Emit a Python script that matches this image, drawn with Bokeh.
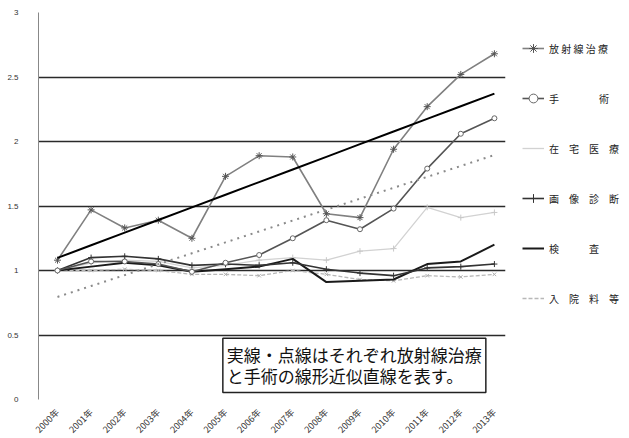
import numpy as np
from bokeh.plotting import figure
from bokeh.models import Legend, LegendItem, Label, FixedTicker
from bokeh.embed import file_html
from bokeh.resources import INLINE

# 年ごとの指数（2000年 = 1）
years = ["2000年", "2001年", "2002年", "2003年", "2004年", "2005年", "2006年",
         "2007年", "2008年", "2009年", "2010年", "2011年", "2012年", "2013年"]

radiation = [1.08, 1.47, 1.33, 1.39, 1.25, 1.73, 1.89, 1.88, 1.44, 1.41, 1.94, 2.27, 2.52, 2.68]
surgery   = [1.00, 1.07, 1.07, 1.05, 0.99, 1.06, 1.12, 1.25, 1.39, 1.32, 1.48, 1.79, 2.06, 2.18]
home_care = [1.00, 1.06, 1.08, 1.07, 1.02, 1.04, 1.08, 1.10, 1.08, 1.15, 1.17, 1.49, 1.41, 1.45]
imaging   = [1.00, 1.10, 1.11, 1.09, 1.04, 1.05, 1.04, 1.06, 1.01, 0.98, 0.96, 1.02, 1.03, 1.05]
tests     = [1.00, 1.03, 1.06, 1.04, 0.99, 1.01, 1.03, 1.09, 0.91, 0.92, 0.93, 1.05, 1.07, 1.20]
inpatient = [1.00, 1.00, 1.01, 1.00, 0.97, 0.97, 0.96, 1.00, 0.97, 0.93, 0.92, 0.96, 0.95, 0.97]

y_ticks = [0, 0.5, 1, 1.5, 2, 2.5, 3]

x = np.arange(len(years))
JP = "Noto Sans CJK JP"

p = figure(frame_width=467, frame_height=387, output_backend="svg", toolbar_location=None,
           x_range=(-0.565, 13.33), y_range=(0, 3),
           min_border_left=38, min_border_right=124, min_border_top=12, min_border_bottom=39)
p.outline_line_color = None
p.background_fill_color = "white"

# 軸
p.xgrid.grid_line_color = None
p.ygrid.ticker = FixedTicker(ticks=y_ticks)
p.ygrid.grid_line_color = "#2a2a2a"
p.ygrid.grid_line_width = 1.3

p.yaxis.ticker = FixedTicker(ticks=y_ticks)
p.yaxis.major_label_overrides = {0: "0", 0.5: "0.5", 1: "1", 1.5: "1.5", 2: "2", 2.5: "2.5", 3: "3"}
p.yaxis.axis_line_color = "#888888"
p.yaxis.major_tick_line_color = None
p.yaxis.minor_tick_line_color = None
p.yaxis.major_label_text_font_size = "8px"
p.yaxis.major_label_text_color = "#333333"
p.yaxis.major_label_standoff = 14

p.xaxis.ticker = FixedTicker(ticks=list(range(len(years))))
p.xaxis.major_label_overrides = {i: y for i, y in enumerate(years)}
p.xaxis.major_label_orientation = np.pi / 4
p.xaxis.axis_line_color = None
p.xaxis.major_tick_line_color = None
p.xaxis.minor_tick_line_color = None
p.xaxis.major_label_text_font_size = "9px"
p.xaxis.major_label_text_font = JP
p.xaxis.major_label_text_color = "#333333"
p.xaxis.major_label_standoff = 5

# 系列
r_inp_l = p.line(x, inpatient, line_color="#b8b8b8", line_width=1.3, line_dash="4 2")
r_inp_m = p.scatter(x, inpatient, marker="x", size=5, line_color="#b0b0b0")

r_home_l = p.line(x, home_care, line_color="#d2d2d2", line_width=1.3)
r_home_m = p.scatter(x, home_care, marker="cross", size=6, line_color="#c8c8c8")

r_test_l = p.line(x, tests, line_color="#1a1a1a", line_width=2)

r_img_l = p.line(x, imaging, line_color="#333333", line_width=1.6)
r_img_m = p.scatter(x, imaging, marker="cross", size=6, line_color="#333333")

r_sur_l = p.line(x, surgery, line_color="#555555", line_width=1.6)
r_sur_m = p.scatter(x, surgery, marker="circle", size=5, line_color="#666666", fill_color="white")

r_rad_l = p.line(x, radiation, line_color="#808080", line_width=1.6)
r_rad_m = p.scatter(x, radiation, marker="asterisk", size=7, line_color="#555555")

# 線形近似直線（放射線治療：実線、手術：点線）
k_rad, b_rad = np.polyfit(x, radiation, 1)
k_sur, b_sur = np.polyfit(x, surgery, 1)
p.line(x, k_rad * x + b_rad, line_color="black", line_width=2)
p.line(x, k_sur * x + b_sur, line_color="#8a8a8a", line_width=2, line_dash="2 5")

# 凡例
legend = Legend(items=[
    LegendItem(label="放 射 線 治 療", renderers=[r_rad_l, r_rad_m]),
    LegendItem(label="手　　　　術", renderers=[r_sur_l, r_sur_m]),
    LegendItem(label="在　宅　医　療", renderers=[r_home_l]),
    LegendItem(label="画　像　診　断", renderers=[r_img_l, r_img_m]),
    LegendItem(label="検　　　査", renderers=[r_test_l]),
    LegendItem(label="入　院　料　等", renderers=[r_inp_l]),
], location="top_left")
legend.border_line_color = None
legend.background_fill_alpha = 0
legend.margin = 17
legend.padding = 0
legend.glyph_width = 22
legend.glyph_height = 38
legend.spacing = 12
legend.label_standoff = 5
legend.label_text_font = JP
legend.label_text_font_size = "10px"
legend.label_text_color = "#222222"
p.add_layout(legend, "right")

# 注記
note = Label(x=4.92, y=0.055, text="実線・点線はそれぞれ放射線治療\nと手術の線形近似直線を表す。",
             text_font=JP, text_font_size="17px", text_color="#111111",
             text_line_height=0.85,
             text_align="left", text_baseline="bottom",
             border_line_color="#222222", border_line_width=1.5,
             background_fill_color="white", padding=4)
p.add_layout(note)

open("out.html", "w").write(file_html(p, INLINE))
